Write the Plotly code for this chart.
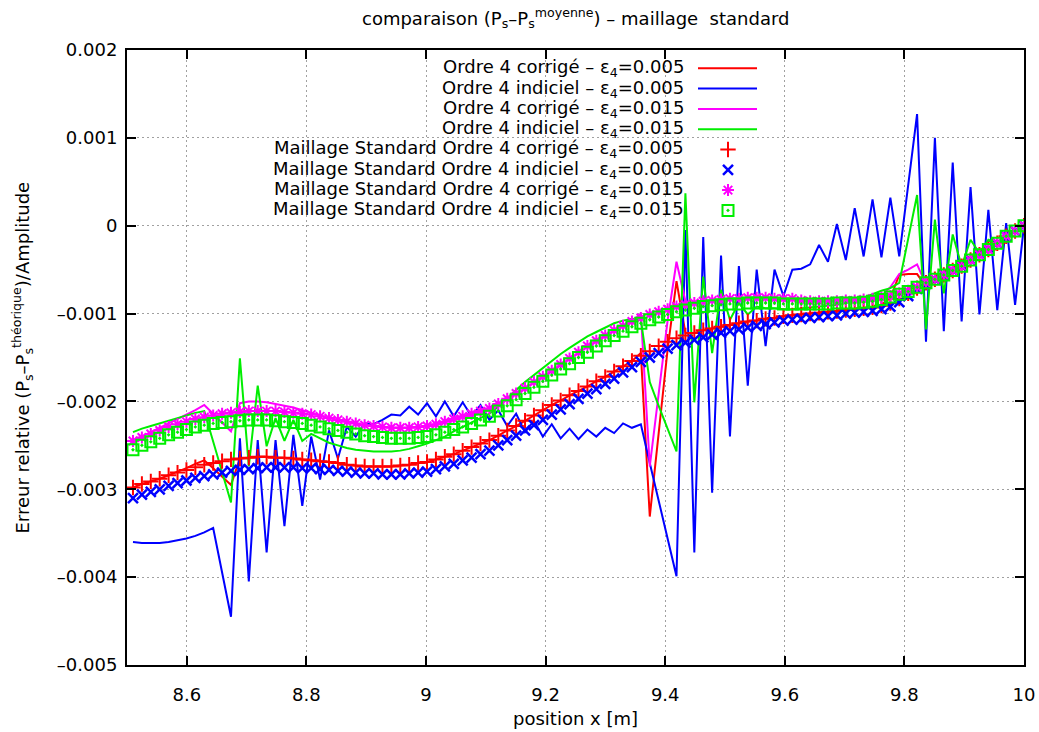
import plotly.graph_objects as go

# ---------------- data (values of the y series are in units of 1e-3) ----------------
X = [8.5100, 8.5249, 8.5398, 8.5547, 8.5696, 8.5845, 8.5994, 8.6143, 8.6292, 8.6441,
     8.6590, 8.6739, 8.6888, 8.7037, 8.7186, 8.7335, 8.7484, 8.7633, 8.7782, 8.7931,
     8.8080, 8.8229, 8.8378, 8.8527, 8.8676, 8.8825, 8.8974, 8.9123, 8.9272, 8.9421,
     8.9570, 8.9719, 8.9868, 9.0017, 9.0166, 9.0315, 9.0464, 9.0613, 9.0762, 9.0911,
     9.1060, 9.1209, 9.1358, 9.1507, 9.1656, 9.1805, 9.1954, 9.2103, 9.2252, 9.2401,
     9.2550, 9.2699, 9.2848, 9.2997, 9.3146, 9.3295, 9.3444, 9.3593, 9.3742, 9.3891,
     9.4040, 9.4189, 9.4338, 9.4487, 9.4636, 9.4785, 9.4934, 9.5083, 9.5232, 9.5381,
     9.5530, 9.5679, 9.5828, 9.5977, 9.6126, 9.6275, 9.6424, 9.6573, 9.6722, 9.6871,
     9.7020, 9.7169, 9.7318, 9.7467, 9.7616, 9.7765, 9.7914, 9.8063, 9.8212, 9.8361,
     9.8510, 9.8659, 9.8808, 9.8957, 9.9106, 9.9255, 9.9404, 9.9553, 9.9702, 9.9851,
     10.0000]

# Ordre 4 corrigé – eps4=0.005 (red line)
CORR_005 = [-2.98, -2.94, -2.91, -2.88, -2.84, -2.80, -2.76, -2.71, -2.67, -2.76,
            -2.86, -2.95, -2.65, -2.64, -2.63, -2.63, -2.64, -2.64, -2.65, -2.66,
            -2.67, -2.68, -2.69, -2.70, -2.72, -2.73, -2.74, -2.74, -2.74, -2.74,
            -2.73, -2.72, -2.70, -2.69, -2.66, -2.63, -2.60, -2.56, -2.52, -2.48,
            -2.44, -2.39, -2.33, -2.28, -2.22, -2.16, -2.10, -2.04, -1.99, -1.93,
            -1.88, -1.83, -1.77, -1.72, -1.66, -1.60, -1.54, -1.45, -3.31, -2.36,
            -1.41, -0.63, -1.22, -1.22, -1.19, -1.17, -1.15, -1.13, -1.11, -1.09,
            -1.08, -1.06, -1.05, -1.03, -1.02, -1.01, -1.00, -0.99, -0.98, -0.97,
            -0.96, -0.95, -0.94, -0.93, -0.91, -0.82, -0.56, -0.55, -0.55, -0.69,
            -0.61, -0.56, -0.51, -0.46, -0.39, -0.33, -0.27, -0.20, -0.12, -0.06, 0.00]

# Ordre 4 indiciel – eps4=0.005 (blue line)
IND_005 = [-3.60, -3.61, -3.61, -3.61, -3.60, -3.58, -3.56, -3.53, -3.49, -3.44,
           -3.95, -4.45, -2.42, -4.05, -2.44, -3.72, -2.44, -3.42, -2.38, -3.19,
           -2.40, -2.89, -2.33, -2.65, -2.29, -2.40, -2.25, -2.26, -2.21, -2.15,
           -2.16, -2.06, -2.15, -2.02, -2.17, -2.00, -2.17, -2.01, -2.17, -2.04,
           -2.21, -2.10, -2.28, -2.14, -2.35, -2.22, -2.40, -2.26, -2.42, -2.31,
           -2.43, -2.32, -2.40, -2.30, -2.36, -2.25, -2.30, -2.26, -2.70, -3.13,
           -3.56, -3.99, -0.05, -3.72, -0.13, -3.04, -0.34, -2.40, -0.46, -1.82,
           -0.50, -1.37, -0.50, -0.80, -0.50, -0.49, -0.44, -0.22, -0.41, 0.02,
           -0.39, 0.20, -0.35, 0.30, -0.36, 0.32, -0.35, 0.46, 1.27, -1.32,
           1.00, -1.20, 0.72, -1.09, 0.44, -1.01, 0.18, -0.96, 0.03, -0.90, 0.00]

# Ordre 4 corrigé – eps4=0.015 (magenta line)
CORR_015 = [-2.45, -2.40, -2.35, -2.30, -2.25, -2.20, -2.15, -2.10, -2.04, -2.14,
            -2.24, -2.34, -2.02, -2.00, -2.00, -2.01, -2.03, -2.05, -2.07, -2.10,
            -2.13, -2.16, -2.19, -2.21, -2.23, -2.25, -2.27, -2.28, -2.29, -2.30,
            -2.30, -2.30, -2.29, -2.28, -2.26, -2.23, -2.20, -2.17, -2.14, -2.11,
            -2.08, -2.03, -1.97, -1.91, -1.85, -1.78, -1.72, -1.65, -1.58, -1.51,
            -1.44, -1.37, -1.31, -1.25, -1.19, -1.14, -1.09, -1.00, -2.74, -1.91,
            -1.08, -0.41, -0.86, -0.88, -0.86, -0.85, -0.84, -0.83, -0.83, -0.82,
            -0.82, -0.82, -0.83, -0.83, -0.83, -0.85, -0.86, -0.86, -0.86, -0.86,
            -0.85, -0.85, -0.84, -0.83, -0.80, -0.70, -0.55, -0.50, -0.44, -0.67,
            -0.61, -0.56, -0.51, -0.46, -0.39, -0.33, -0.27, -0.20, -0.12, -0.06, 0.00]

# Ordre 4 indiciel – eps4=0.015 (green line)
IND_015 = [-2.35, -2.31, -2.28, -2.25, -2.22, -2.19, -2.16, -2.13, -2.11, -2.45,
           -2.80, -3.15, -1.51, -2.74, -1.82, -2.51, -2.19, -2.45, -2.21, -2.45,
           -2.37, -2.42, -2.47, -2.50, -2.53, -2.55, -2.56, -2.57, -2.57, -2.57,
           -2.56, -2.54, -2.51, -2.48, -2.44, -2.40, -2.34, -2.29, -2.24, -2.19,
           -2.14, -2.06, -1.96, -1.87, -1.78, -1.70, -1.61, -1.53, -1.46, -1.39,
           -1.32, -1.26, -1.21, -1.16, -1.11, -1.08, -1.06, -1.07, -1.78, -2.05,
           -2.31, -2.57, 0.37, -2.01, -0.58, -1.45, -0.73, -1.07, -0.88, -1.01,
           -0.92, -0.94, -0.94, -0.95, -0.95, -0.94, -0.93, -0.92, -0.91, -0.90,
           -0.88, -0.85, -0.82, -0.78, -0.74, -0.71, -0.65, -0.15, 0.35, -1.18,
           0.07, -0.77, -0.10, -0.46, -0.16, -0.31, -0.16, -0.20, -0.12, -0.06, 0.00]

# Maillage Standard Ordre 4 corrigé – eps4=0.005 (red +)
MS_CORR_005 = [-2.98, -2.94, -2.91, -2.88, -2.84, -2.81, -2.78, -2.75, -2.72, -2.70,
               -2.68, -2.66, -2.65, -2.64, -2.63, -2.63, -2.64, -2.64, -2.65, -2.66,
               -2.67, -2.68, -2.69, -2.70, -2.72, -2.73, -2.74, -2.74, -2.74, -2.74,
               -2.73, -2.72, -2.70, -2.69, -2.66, -2.63, -2.60, -2.56, -2.52, -2.48,
               -2.44, -2.39, -2.33, -2.28, -2.22, -2.16, -2.10, -2.04, -1.99, -1.93,
               -1.88, -1.83, -1.77, -1.72, -1.66, -1.60, -1.54, -1.48, -1.43, -1.37,
               -1.32, -1.28, -1.25, -1.22, -1.19, -1.17, -1.15, -1.13, -1.11, -1.09,
               -1.08, -1.06, -1.05, -1.03, -1.02, -1.01, -1.00, -0.99, -0.98, -0.97,
               -0.96, -0.95, -0.94, -0.93, -0.91, -0.88, -0.83, -0.77, -0.71, -0.65,
               -0.61, -0.56, -0.51, -0.46, -0.39, -0.33, -0.27, -0.20, -0.12, -0.06, 0.00]

# Maillage Standard Ordre 4 indiciel – eps4=0.005 (blue x)
MS_IND_005 = [-3.10, -3.06, -3.03, -3.00, -2.96, -2.93, -2.90, -2.87, -2.85, -2.83,
              -2.81, -2.79, -2.78, -2.77, -2.76, -2.75, -2.75, -2.75, -2.75, -2.76,
              -2.76, -2.77, -2.78, -2.79, -2.80, -2.81, -2.82, -2.82, -2.83, -2.83,
              -2.83, -2.82, -2.81, -2.80, -2.77, -2.74, -2.71, -2.67, -2.64, -2.60,
              -2.56, -2.50, -2.44, -2.39, -2.33, -2.27, -2.21, -2.15, -2.09, -2.03,
              -1.97, -1.91, -1.86, -1.80, -1.74, -1.67, -1.61, -1.55, -1.50, -1.45,
              -1.40, -1.36, -1.33, -1.30, -1.27, -1.24, -1.22, -1.20, -1.18, -1.16,
              -1.14, -1.12, -1.10, -1.08, -1.07, -1.06, -1.05, -1.04, -1.03, -1.02,
              -1.00, -0.99, -0.98, -0.97, -0.95, -0.92, -0.87, -0.80, -0.72, -0.66,
              -0.61, -0.56, -0.51, -0.46, -0.39, -0.33, -0.27, -0.20, -0.12, -0.06, 0.00]

# Maillage Standard Ordre 4 corrigé – eps4=0.015 (magenta *)
MS_CORR_015 = [-2.45, -2.41, -2.37, -2.33, -2.29, -2.26, -2.23, -2.20, -2.18, -2.16,
               -2.14, -2.13, -2.12, -2.11, -2.11, -2.11, -2.11, -2.12, -2.13, -2.14,
               -2.15, -2.17, -2.19, -2.21, -2.23, -2.25, -2.27, -2.28, -2.29, -2.30,
               -2.30, -2.30, -2.29, -2.28, -2.26, -2.23, -2.20, -2.17, -2.14, -2.11,
               -2.08, -2.03, -1.97, -1.91, -1.85, -1.78, -1.72, -1.65, -1.58, -1.51,
               -1.44, -1.37, -1.31, -1.25, -1.19, -1.14, -1.09, -1.05, -1.01, -0.98,
               -0.95, -0.92, -0.90, -0.88, -0.86, -0.85, -0.84, -0.83, -0.83, -0.82,
               -0.82, -0.82, -0.83, -0.83, -0.83, -0.85, -0.86, -0.86, -0.86, -0.86,
               -0.85, -0.85, -0.84, -0.83, -0.82, -0.80, -0.77, -0.74, -0.70, -0.65,
               -0.61, -0.56, -0.51, -0.46, -0.39, -0.33, -0.27, -0.20, -0.12, -0.06, 0.00]

# Maillage Standard Ordre 4 indiciel – eps4=0.015 (green squares)
MS_IND_015 = [-2.55, -2.50, -2.46, -2.42, -2.38, -2.35, -2.32, -2.29, -2.27, -2.25,
              -2.24, -2.23, -2.22, -2.21, -2.21, -2.21, -2.22, -2.23, -2.24, -2.25,
              -2.27, -2.29, -2.31, -2.33, -2.35, -2.37, -2.39, -2.40, -2.41, -2.42,
              -2.42, -2.42, -2.41, -2.40, -2.38, -2.35, -2.32, -2.29, -2.25, -2.21,
              -2.17, -2.11, -2.05, -1.98, -1.91, -1.84, -1.77, -1.70, -1.63, -1.57,
              -1.50, -1.44, -1.37, -1.31, -1.25, -1.20, -1.15, -1.11, -1.07, -1.04,
              -1.01, -0.98, -0.96, -0.94, -0.92, -0.91, -0.90, -0.89, -0.89, -0.88,
              -0.88, -0.88, -0.88, -0.89, -0.89, -0.89, -0.89, -0.89, -0.89, -0.88,
              -0.88, -0.88, -0.87, -0.86, -0.84, -0.81, -0.78, -0.75, -0.70, -0.65,
              -0.61, -0.56, -0.51, -0.46, -0.39, -0.33, -0.27, -0.20, -0.12, -0.06, 0.00]

SCALE = 1e-3

X_TICKS = [8.6, 8.8, 9.0, 9.2, 9.4, 9.6, 9.8, 10.0]
X_TICK_TEXT = ["8.6", "8.8", "9", "9.2", "9.4", "9.6", "9.8", "10"]
Y_TICKS = [0.002, 0.001, 0.0, -0.001, -0.002, -0.003, -0.004, -0.005]
Y_TICK_TEXT = ["0.002", "0.001", "0", "–0.001", "–0.002", "–0.003", "–0.004", "–0.005"]

LABELS = [
    "Ordre 4 corrigé – ε<sub>4</sub>=0.005",
    "Ordre 4 indiciel – ε<sub>4</sub>=0.005",
    "Ordre 4 corrigé – ε<sub>4</sub>=0.015",
    "Ordre 4 indiciel – ε<sub>4</sub>=0.015",
    "Maillage Standard Ordre 4 corrigé – ε<sub>4</sub>=0.005",
    "Maillage Standard Ordre 4 indiciel – ε<sub>4</sub>=0.005",
    "Maillage Standard Ordre 4 corrigé – ε<sub>4</sub>=0.015",
    "Maillage Standard Ordre 4 indiciel – ε<sub>4</sub>=0.015",
]

RED, BLUE, MAGENTA, GREEN = "#ff0000", "#0000ff", "#ff00ff", "#00ee00"

# ---------------- layout geometry ----------------
W, H = 1039, 732
ML, MR, MT, MB = 127, 15, 50, 67
PW, PH = W - ML - MR, H - MT - MB
FONT = "DejaVu Sans"


def px_x(p):
    return (p - ML) / PW


def px_y(p):
    return 1 - (p - MT) / PH


fig = go.Figure()

line_series = [(CORR_005, RED), (IND_005, BLUE), (CORR_015, MAGENTA), (IND_015, GREEN)]
for vals, col in line_series:
    fig.add_trace(go.Scatter(x=X, y=[v * SCALE for v in vals], mode="lines",
                             line=dict(color=col, width=2), showlegend=False,
                             hoverinfo="skip"))

marker_series = [
    (MS_CORR_005, RED, "cross-thin-open", 11, 2),
    (MS_IND_005, BLUE, "x-thin-open", 10, 2.5),
    (MS_CORR_015, MAGENTA, "asterisk-open", 10, 2),
    (MS_IND_015, GREEN, "square-open-dot", 11, 2),
]
for vals, col, sym, size, lw in marker_series:
    fig.add_trace(go.Scatter(x=X, y=[v * SCALE for v in vals], mode="markers",
                             marker=dict(symbol=sym, size=size, color=col,
                                         line=dict(color=col, width=lw)),
                             showlegend=False, hoverinfo="skip"))

# ---------------- key (gnuplot style: text then sample) ----------------
ROW0, ROW_STEP = 68.3, 20.3
TEXT_RIGHT = 686
SAMPLE_X0, SAMPLE_X1 = 698, 757
SAMPLE_MID = 728

annotations = []
shapes = []
for i, lab in enumerate(LABELS):
    yy = px_y(ROW0 + i * ROW_STEP)
    annotations.append(dict(xref="paper", yref="paper", x=px_x(TEXT_RIGHT), y=yy,
                            xanchor="right", yanchor="middle", text=lab, showarrow=False,
                            font=dict(family=FONT, size=18, color="black")))
for i, (vals, col) in enumerate(line_series):
    yy = px_y(ROW0 + i * ROW_STEP)
    shapes.append(dict(type="line", xref="paper", yref="paper",
                       x0=px_x(SAMPLE_X0), x1=px_x(SAMPLE_X1), y0=yy, y1=yy,
                       line=dict(color=col, width=2)))
for i, (vals, col, sym, size, lw) in enumerate(marker_series):
    yy = px_y(ROW0 + (i + 4) * ROW_STEP)
    fig.add_trace(go.Scatter(x=[px_x(SAMPLE_MID)], y=[yy], mode="markers",
                             xaxis="x2", yaxis="y2",
                             marker=dict(symbol=sym, size=size, color=col,
                                         line=dict(color=col, width=lw)),
                             showlegend=False, hoverinfo="skip", cliponaxis=False))

# titles
annotations.append(dict(xref="paper", yref="paper", x=0.5, y=px_y(18), xanchor="center",
                        yanchor="middle", showarrow=False,
                        text="comparaison (P<sub>s</sub>–P<sub>s</sub><sup>moyenne</sup>) – maillage  standard",
                        font=dict(family=FONT, size=18, color="black")))
annotations.append(dict(xref="paper", yref="paper", x=0.5, y=px_y(718), xanchor="center",
                        yanchor="middle", showarrow=False, text="position x [m]",
                        font=dict(family=FONT, size=18, color="black")))
annotations.append(dict(xref="paper", yref="paper", x=px_x(22), y=0.5, xanchor="center",
                        yanchor="middle", showarrow=False, textangle=-90,
                        text="Erreur relative (P<sub>s</sub>–P<sub>s</sub><sup>théorique</sup>)/Amplitude",
                        font=dict(family=FONT, size=18, color="black")))

axis_common = dict(showline=True, linewidth=2, linecolor="black", mirror="ticks",
                   ticks="inside", ticklen=9, tickwidth=2, tickcolor="black",
                   showgrid=True, gridcolor="#a0a0a0", gridwidth=1, griddash="2px,3px",
                   zeroline=False, automargin=False,
                   tickfont=dict(family=FONT, size=18, color="black"))

fig.update_layout(
    width=W, height=H,
    autosize=False,
    margin=dict(l=ML, r=MR, t=MT, b=MB, pad=0, autoexpand=False),
    paper_bgcolor="white", plot_bgcolor="white",
    showlegend=False,
    font=dict(family=FONT, size=18, color="black"),
    xaxis=dict(range=[8.5, 10], tickmode="array", tickvals=X_TICKS, ticktext=X_TICK_TEXT,
               ticklabelstandoff=12, **axis_common),
    yaxis=dict(range=[-0.005, 0.002], tickmode="array", tickvals=Y_TICKS,
               ticktext=Y_TICK_TEXT, ticklabelstandoff=4, **axis_common),
    xaxis2=dict(range=[0, 1], overlaying="x", anchor="y2", visible=False, fixedrange=True,
                automargin=False),
    yaxis2=dict(range=[0, 1], overlaying="y", anchor="x2", visible=False, fixedrange=True,
                automargin=False),
    annotations=annotations,
    shapes=shapes,
)

fig.write_html("out.html")
